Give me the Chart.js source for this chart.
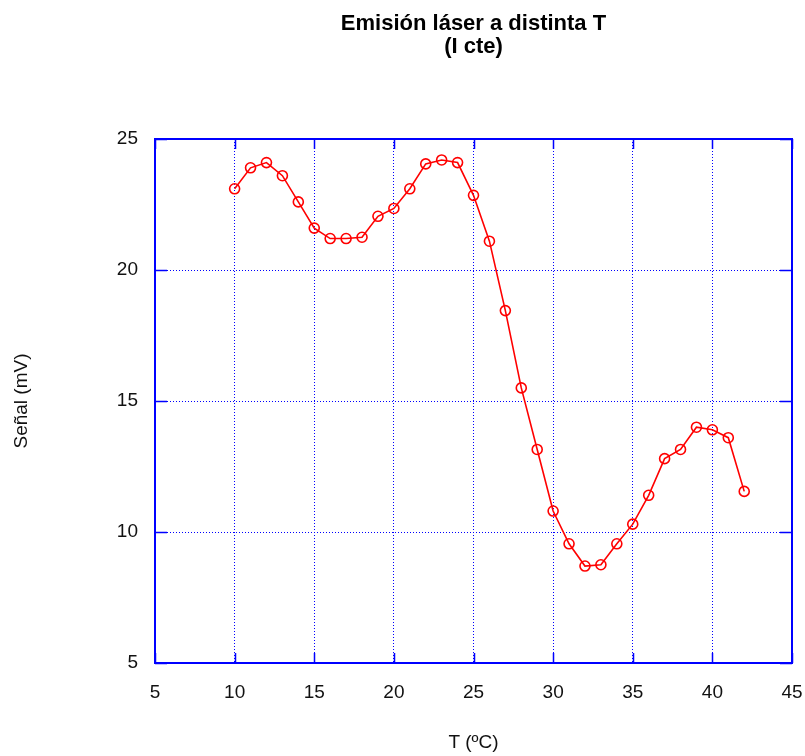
<!DOCTYPE html>
<html>
<head>
<meta charset="utf-8">
<script src="https://cdn.jsdelivr.net/npm/chart.js@4.4.1/dist/chart.umd.min.js"></script>
<style>
  body { margin: 0; background: #fff; }
</style>
</head>
<body>
<canvas id="myChart" width="805" height="756"></canvas>
<script>
const titleLines = ['Emisión láser a distinta T', '(I cte)']
const xTitle = 'T (ºC)'
const yTitle = 'Señal (mV)'

// temperatura (ºC) y señal (mV)
const temps = [10, 11, 12, 13, 14, 15, 16, 17, 18, 19, 20, 21, 22, 23, 24, 25, 26,
  27, 28, 29, 30, 31, 32, 33, 34, 35, 36, 37, 38, 39, 40, 41, 42]
const signal = [23.1, 23.9, 24.1, 23.6, 22.6, 21.6, 21.2, 21.2, 21.25, 22.05, 22.35, 23.1, 24.05, 24.2, 24.1, 22.85, 21.1,
  18.45, 15.5, 13.15, 10.8, 9.55, 8.7, 8.75, 9.55, 10.3, 11.4, 12.8, 13.15, 14.0, 13.9, 13.6, 11.55]

const xTicks = [5, 10, 15, 20, 25, 30, 35, 40, 45]
const yTicks = [5, 10, 15, 20, 25]

const blue = 'rgb(0, 0, 255)'
const red = 'rgb(255, 0, 0)'
const fontFamily = '"Liberation Sans", Arial, sans-serif'

const points = temps.map((t, i) => ({ x: t, y: signal[i] }))

// marco, marcas interiores y título
const framePlugin = {
  id: 'frame',
  afterDraw(chart) {
    const { ctx, chartArea: a, scales } = chart
    ctx.save()
    ctx.strokeStyle = blue
    ctx.lineWidth = 1.5
    xTicks.forEach((v) => {
      const px = Math.round(scales.x.getPixelForValue(v)) + 0.5
      ctx.beginPath()
      ctx.moveTo(px, a.bottom); ctx.lineTo(px, a.bottom - 10)
      ctx.moveTo(px, a.top); ctx.lineTo(px, a.top + 10)
      ctx.stroke()
    })
    yTicks.forEach((v) => {
      const py = Math.round(scales.y.getPixelForValue(v)) + 0.5
      ctx.beginPath()
      ctx.moveTo(a.left, py); ctx.lineTo(a.left + 12, py)
      ctx.moveTo(a.right, py); ctx.lineTo(a.right - 12, py)
      ctx.stroke()
    })
    ctx.lineWidth = 2
    ctx.strokeRect(a.left, a.top, a.right - a.left, a.bottom - a.top)

    ctx.fillStyle = '#000'
    ctx.font = 'bold 22px ' + fontFamily
    ctx.textAlign = 'center'
    ctx.textBaseline = 'middle'
    const cx = (a.left + a.right) / 2
    ctx.fillText(titleLines[0], cx, 24)
    ctx.fillText(titleLines[1], cx, 47)
    ctx.restore()
  },
}

const myChart = new Chart('myChart', {
  type: 'scatter',
  data: {
    datasets: [
      {
        data: points,
        showLine: true,
        borderColor: red,
        borderWidth: 1.6,
        pointRadius: 5,
        pointBorderWidth: 1.6,
        pointBorderColor: red,
        pointBackgroundColor: 'rgba(0,0,0,0)',
        tension: 0,
      },
    ],
  },
  options: {
    responsive: false,
    animation: false,
    layout: { padding: { left: 0, right: 13, top: 139, bottom: 0 } },
    plugins: {
      legend: { display: false },
      tooltip: { enabled: false },
    },
    scales: {
      x: {
        type: 'linear',
        min: 5,
        max: 45,
        afterBuildTicks: (s) => { s.ticks = xTicks.map((v) => ({ value: v })) },
        afterFit: (s) => {
          s.height = 93
          s.paddingLeft = 0
          s.paddingRight = 0
        },
        ticks: { padding: 18, color: '#111', font: { family: fontFamily, size: 19 } },
        grid: { color: blue, lineWidth: 1, drawTicks: false },
        border: { display: false, dash: [1, 2] },
        title: {
          display: true,
          text: xTitle,
          color: '#111',
          padding: { top: 0, bottom: 2 },
          font: { family: fontFamily, size: 19 },
        },
      },
      y: {
        type: 'linear',
        min: 5,
        max: 25,
        afterBuildTicks: (s) => { s.ticks = yTicks.map((v) => ({ value: v })) },
        afterFit: (s) => {
          s.width = 155
          s.paddingTop = 0
          s.paddingBottom = 0
        },
        ticks: { padding: 17, color: '#111', font: { family: fontFamily, size: 19 } },
        grid: { color: blue, lineWidth: 1, drawTicks: false },
        border: { display: false, dash: [1, 2] },
        title: {
          display: true,
          text: yTitle,
          color: '#111',
          padding: { top: 10, bottom: 0 },
          font: { family: fontFamily, size: 19 },
        },
      },
    },
  },
  plugins: [framePlugin],
})
</script>
</body>
</html>
